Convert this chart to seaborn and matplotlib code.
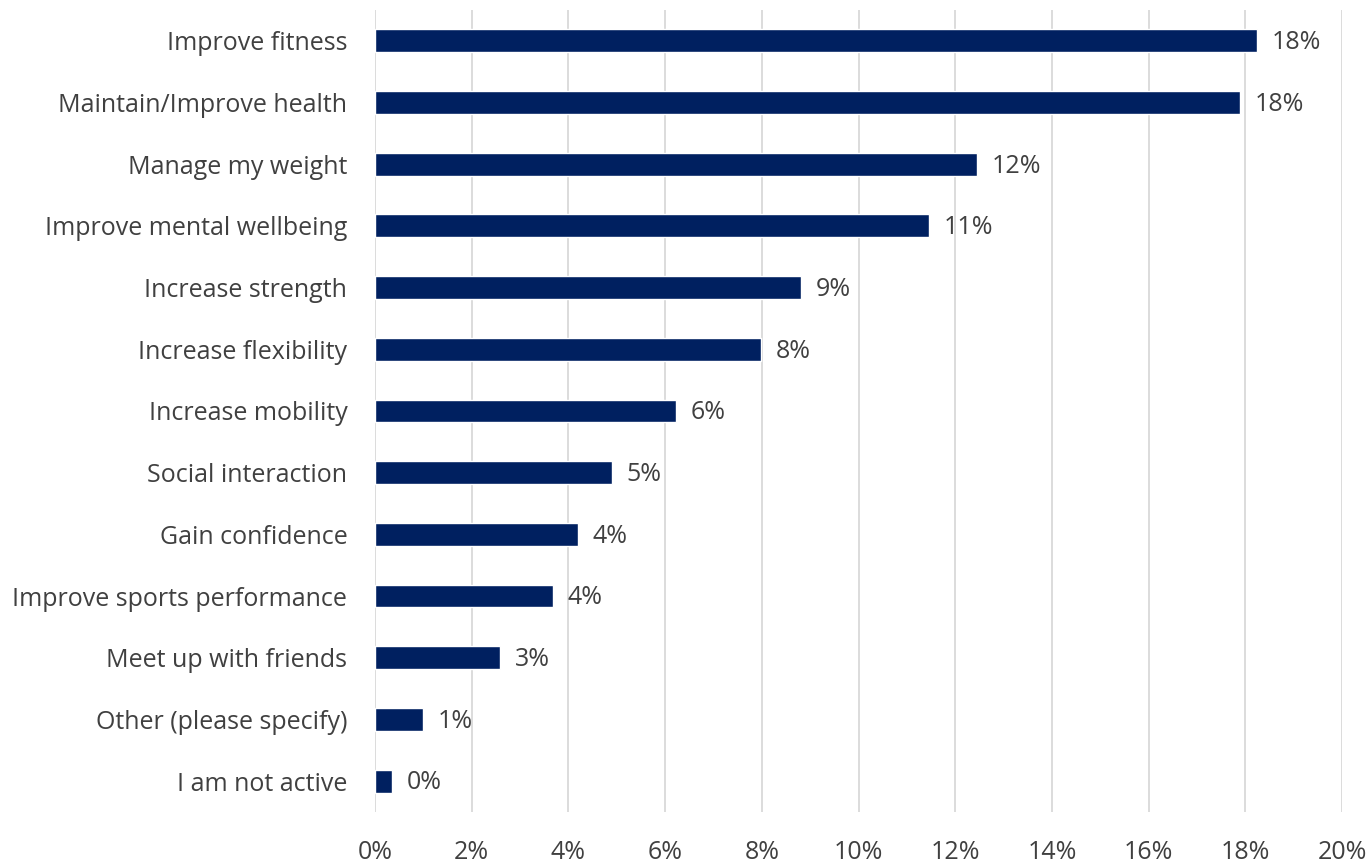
import matplotlib
matplotlib.use("Agg")
import matplotlib.pyplot as plt
import seaborn as sns
import pandas as pd
from matplotlib.ticker import FuncFormatter, MultipleLocator

categories = [
    "Improve fitness",
    "Maintain/Improve health",
    "Manage my weight",
    "Improve mental wellbeing",
    "Increase strength",
    "Increase flexibility",
    "Increase mobility",
    "Social interaction",
    "Gain confidence",
    "Improve sports performance",
    "Meet up with friends",
    "Other (please specify)",
    "I am not active",
]
shares = [0.1824, 0.1789, 0.1245, 0.1146, 0.0881, 0.0798, 0.0623,
          0.0490, 0.0420, 0.0368, 0.0259, 0.0099, 0.0035]

df = pd.DataFrame({"reason": categories, "share": shares})

sns.set_theme(style="white")
plt.rcParams["font.family"] = ["Open Sans", "DejaVu Sans"]

text_color = "#404040"
bar_color = "#002060"

fig = plt.figure(figsize=(13.69, 8.66), dpi=100)
ax = fig.add_axes([0.274, 0.0624, 0.7063, 0.9261])

sns.barplot(data=df, x="share", y="reason", color=bar_color, width=0.37,
            saturation=1, ax=ax, zorder=3)

for patch, val in zip(ax.patches, shares):
    y = patch.get_y() + patch.get_height() / 2
    ax.text(val + 0.003, y + 0.03, f"{val:.0%}", va="center", ha="left",
            fontsize=18, color=text_color)

ax.set_xlim(0, 0.20)
ax.xaxis.set_major_locator(MultipleLocator(0.02))
ax.xaxis.set_major_formatter(FuncFormatter(lambda v, _: f"{v:.0%}"))
ax.grid(axis="x", color="#d9d9d9", linewidth=1.3, zorder=0)
ax.set_xlabel("")
ax.set_ylabel("")
for s in ax.spines.values():
    s.set_visible(False)
ax.tick_params(axis="both", length=0, labelsize=18, colors=text_color)
ax.tick_params(axis="y", pad=20)
ax.tick_params(axis="x", pad=20)

fig.savefig("out.png", dpi=100, facecolor="white")
